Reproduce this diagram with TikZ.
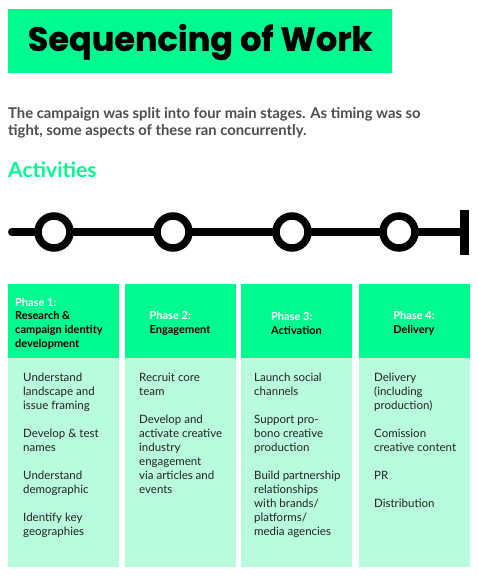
\documentclass[tikz,border=0pt]{standalone}
\usepackage{fontspec}
\setmainfont{Lato}
\newfontfamily\titlefont[BoldFeatures={FakeBold=0.8}]{Poppins}
\usepackage{xcolor}
\usetikzlibrary{positioning}
\definecolor{brightgreen}{HTML}{00FA90}
\definecolor{mintgreen}{HTML}{B9FBDD}
\definecolor{introgray}{HTML}{4D4D4D}
\definecolor{bodyink}{HTML}{222222}

\begin{document}
\begin{tikzpicture}[x=1pt, y=-1pt,
  header/.style={fill=brightgreen, minimum width=111pt, minimum height=74pt, inner sep=0pt},
  bodybox/.style={fill=mintgreen, minimum width=111pt, minimum height=209pt, inner sep=0pt},
  headtext/.style={align=left, inner sep=0pt, font=\fontsize{11}{13.7}\selectfont\bfseries},
  bodytext/.style={align=left, inner sep=0pt, anchor=north west, text=bodyink,
    font=\fontsize{11.5}{14}\selectfont},
  milestone/.style={draw=black, line width=7.5pt, fill=white, circle, minimum size=32pt, inner sep=0pt}]
  \useasboundingbox (0,0) rectangle (477,577);
  % title and intro
  \node[fill=brightgreen, minimum width=384pt, minimum height=64pt, inner sep=0pt] (titlebox) at (200,41) {};
  \node[font=\titlefont\fontsize{33.5}{33.5}\selectfont\bfseries] (title) at (200,42) {Sequencing of Work};
  \node[anchor=north west, align=left, inner sep=0pt, text=introgray,
    font=\fontsize{14.8}{17}\selectfont\bfseries] (intro) at (8,107)
    {The campaign was split into four main stages. As timing was so\\tight, some aspects of these ran concurrently.};
  \node[anchor=west, inner sep=0pt, text=brightgreen, font=\fontsize{21}{21}\selectfont\bfseries]
    (activities) at (8,170) {Activities};
  % timeline
  \coordinate (tstart) at (12,232);
  \coordinate (tend) at (464,232);
  \draw[line width=8pt, line cap=round] (tstart) -- (tend);
  \draw[line width=9pt] (464,210) -- (464,255);
  \node[milestone] (m1) at (54,232) {};
  \node[milestone] (m2) at (173,232) {};
  \node[milestone] (m3) at (292,232) {};
  \node[milestone] (m4) at (399,232) {};
  % phase headers
  \node[header] (h1) at (63.5,321) {};
  \node[header] (h2) at (180,321) {};
  \node[header] (h3) at (296.5,321) {};
  \node[header] (h4) at (414,321) {};
  \node[headtext, anchor=west] (t1) at (15,323.5) {\textcolor{white}{Phase 1:}\\Research \&\\campaign identity\\development};
  \node[headtext] (t2) at ([yshift=-2.5pt]h2.center) {\textcolor{white}{Phase 2:}\\Engagement};
  \node[headtext] (t3) at ([yshift=-2.5pt]h3.center) {\textcolor{white}{Phase 3:}\\Activation};
  \node[headtext] (t4) at ([yshift=-2.5pt]h4.center) {\textcolor{white}{Phase 4:}\\Delivery};
  % activity columns
  \node[bodybox, below=0pt of h1] (b1) {};
  \node[bodybox, below=0pt of h2] (b2) {};
  \node[bodybox, below=0pt of h3] (b3) {};
  \node[bodybox, below=0pt of h4] (b4) {};
  \node[bodytext] (a1) at (23,373) {Understand\\landscape and\\issue framing\\[14pt]Develop \& test\\names\\[14pt]Understand\\demographic\\[14pt]Identify key\\geographies};
  \node[bodytext] (a2) at (139,373) {Recruit core\\team\\[14pt]Develop and\\activate creative\\industry\\engagement\\via articles and\\events};
  \node[bodytext] (a3) at (254,373) {Launch social\\channels\\[14pt]Support pro-\\bono creative\\production\\[14pt]Build partnership\\relationships\\with brands/\\platforms/\\media agencies};
  \node[bodytext] (a4) at (374,373) {Delivery\\(including\\production)\\[14pt]Comission\\creative content\\[14pt]PR\\[14pt]Distribution};
\end{tikzpicture}
\end{document}
